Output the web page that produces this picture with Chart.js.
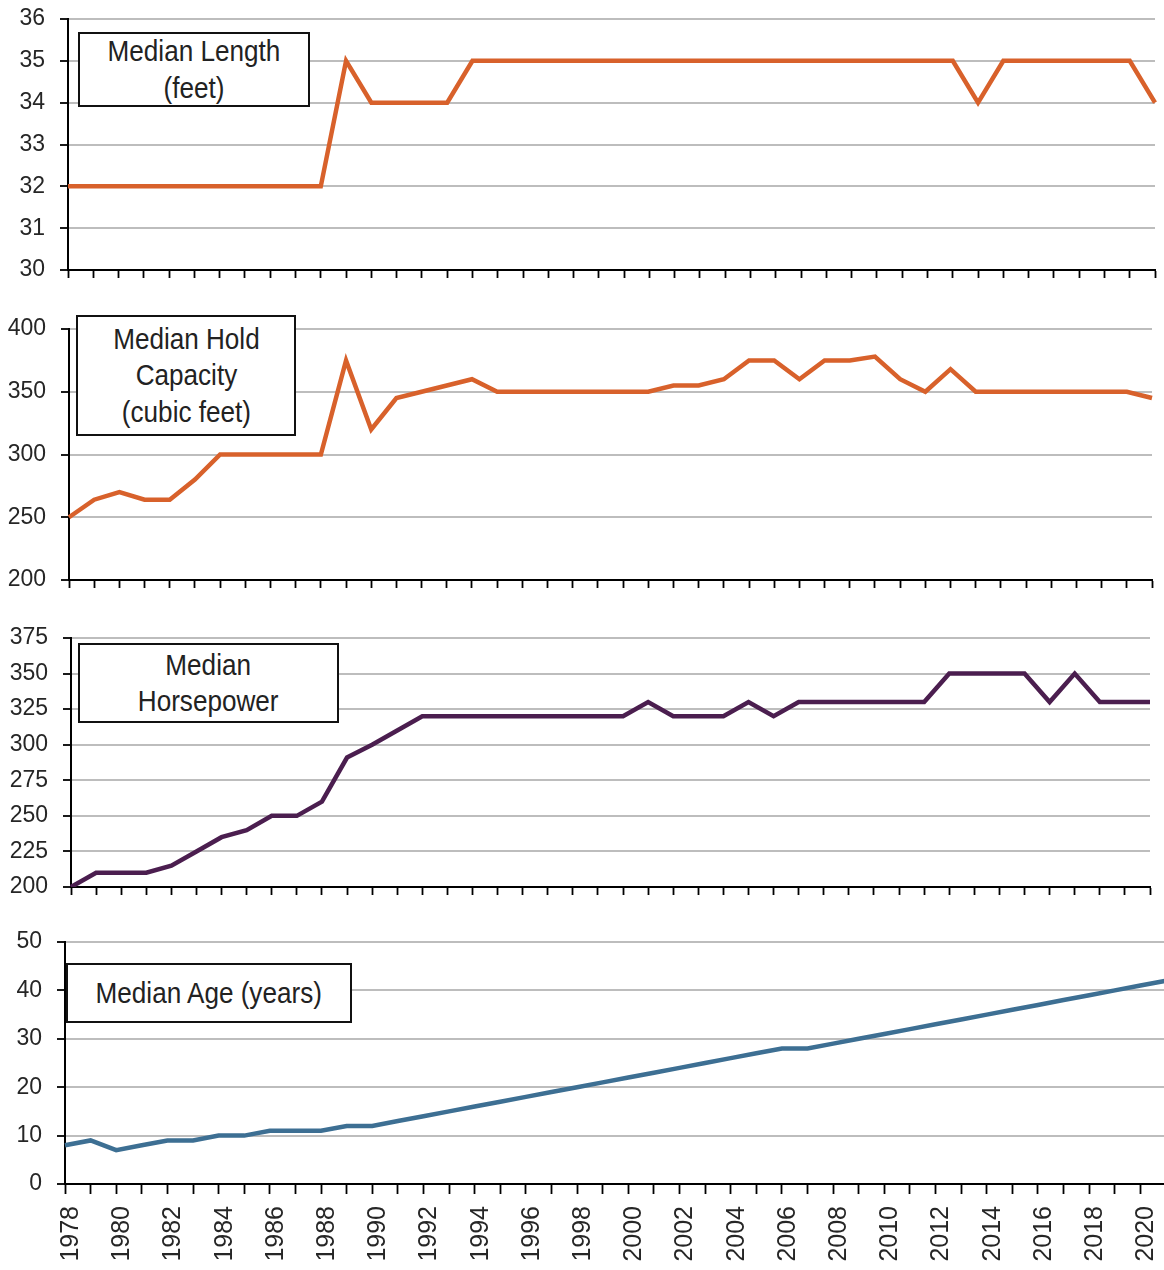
<!DOCTYPE html>
<html>
<head>
<meta charset="utf-8">
<title>Median vessel characteristics 1978-2021</title>
<script src="https://cdn.jsdelivr.net/npm/chart.js@4.4.0/dist/chart.umd.min.js"></script>
<style>
    html, body { margin: 0; padding: 0; background: #fff; overflow: hidden; }
    #page { position: relative; width: 1164px; height: 1270px; overflow: hidden; }
    #page canvas { position: absolute; left: 0; }
    .label-box {
        position: absolute;
        box-sizing: border-box;
        background: #fff;
        border: 2px solid #111;
        font-family: 'Liberation Sans', Arial, sans-serif;
        font-size: 29px;
        line-height: 36.5px;
        color: #222;
        text-align: center;
        display: flex;
        align-items: center;
        justify-content: center;
    }
    .label-box span { display: inline-block; transform: scaleX(0.9); white-space: nowrap; }
</style>
</head>
<body>
<div id="page">
    <canvas id="lengthChart" width="1164" height="300" style="top:0px"></canvas>
    <canvas id="holdChart" width="1164" height="310" style="top:300px"></canvas>
    <canvas id="hpChart" width="1164" height="307" style="top:610px"></canvas>
    <canvas id="ageChart" width="1190" height="353" style="top:917px"></canvas>

    <div class="label-box" style="left:78px;top:32px;width:232px;height:75px"><span>Median Length<br>(feet)</span></div>
    <div class="label-box" style="left:76px;top:315px;width:220px;height:121px"><span>Median Hold<br>Capacity<br>(cubic feet)</span></div>
    <div class="label-box" style="left:78px;top:643px;width:261px;height:80px"><span>Median<br>Horsepower</span></div>
    <div class="label-box" style="left:66px;top:963px;width:286px;height:60px"><span>Median Age (years)</span></div>
</div>

<script>
// --- Data ---

const years = ['1978', '1979', '1980', '1981', '1982', '1983', '1984', '1985', '1986', '1987',
    '1988', '1989', '1990', '1991', '1992', '1993', '1994', '1995', '1996', '1997',
    '1998', '1999', '2000', '2001', '2002', '2003', '2004', '2005', '2006', '2007',
    '2008', '2009', '2010', '2011', '2012', '2013', '2014', '2015', '2016', '2017',
    '2018', '2019', '2020', '2021'];

const medianLength = [32, 32, 32, 32, 32, 32, 32, 32, 32, 32,
    32, 35, 34, 34, 34, 34, 35, 35, 35, 35,
    35, 35, 35, 35, 35, 35, 35, 35, 35, 35,
    35, 35, 35, 35, 35, 35, 34, 35, 35, 35,
    35, 35, 35, 34];

const medianHold = [250, 264, 270, 264, 264, 280, 300, 300, 300, 300,
    300, 375, 320, 345, 350, 355, 360, 350, 350, 350,
    350, 350, 350, 350, 355, 355, 360, 375, 375, 360,
    375, 375, 378, 360, 350, 368, 350, 350, 350, 350,
    350, 350, 350, 345];

const medianHorsepower = [200, 210, 210, 210, 215, 225, 235, 240, 250, 250,
    260, 291, 300, 310, 320, 320, 320, 320, 320, 320,
    320, 320, 320, 330, 320, 320, 320, 330, 320, 330,
    330, 330, 330, 330, 330, 350, 350, 350, 350, 330,
    350, 330, 330, 330];

const medianAge = [8, 9, 7, 8, 9, 9, 10, 10, 11, 11,
    11, 12, 12, 13, 14, 15, 16, 17, 18, 19,
    20, 21, 22, 23, 24, 25, 26, 27, 28, 28,
    29, 30, 31, 32, 33, 34, 35, 36, 37, 38,
    39, 40, 41, 42];

// --- Chart helper ---

const FONT_FAMILY = "'Liberation Sans', Arial, sans-serif";
const NARROW_FAMILY = "'Liberation Sans Narrow', 'Arial Narrow', 'Liberation Sans', sans-serif";
const GRID_GRAY = '#bdbdbd';
const TEXT_COLOR = '#262626';

function makePanel(canvasId, values, color, yMin, yMax, step, frame) {
    const config = {
        type: 'line',
        data: {
            labels: years,
            datasets: [{
                data: values,
                borderColor: color,
                borderWidth: 4.5,
                borderJoinStyle: 'miter',
                pointRadius: 0,
                tension: 0,
                fill: false
            }]
        },
        options: {
            responsive: false,
            animation: false,
            devicePixelRatio: 1,
            layout: {
                padding: { top: frame.padTop, right: frame.padRight, left: 0, bottom: 0 }
            },
            plugins: {
                legend: { display: false },
                tooltip: { enabled: false }
            },
            scales: {
                x: {
                    type: 'category',
                    offset: false,
                    border: { display: true, color: '#000', width: 2 },
                    grid: {
                        drawOnChartArea: false,
                        drawTicks: true,
                        tickLength: frame.tickLength,
                        tickColor: '#000',
                        tickWidth: 1.8
                    },
                    ticks: {
                        display: frame.showYears,
                        autoSkip: false,
                        minRotation: 90,
                        maxRotation: 90,
                        padding: 12,
                        labelOffset: 6,
                        color: TEXT_COLOR,
                        font: { family: FONT_FAMILY, size: 25 },
                        callback: function(value, index) {
                            const year = years[index];
                            return parseInt(year) % 2 === 0 ? year : '';
                        }
                    },
                    afterFit: function(scale) {
                        // keep the plot area where the frame says, not where label overhang pushes it
                        scale.height = frame.xHeight;
                        scale.paddingLeft = 0;
                        scale.paddingRight = 0;
                    }
                },
                y: {
                    min: yMin,
                    max: yMax,
                    border: { display: true, color: '#000', width: 2 },
                    grid: {
                        color: function(ctx) {
                            return ctx.tick && ctx.tick.value === yMin ? 'rgba(0,0,0,0)' : GRID_GRAY;
                        },
                        lineWidth: 2,
                        tickLength: 8,
                        tickColor: '#000',
                        tickWidth: 1.8
                    },
                    ticks: {
                        stepSize: step,
                        padding: 15,
                        color: TEXT_COLOR,
                        font: { family: NARROW_FAMILY, size: 23 }
                    },
                    afterFit: function(scale) {
                        scale.width = frame.yWidth;
                        scale.paddingTop = 0;
                        scale.paddingBottom = 0;
                    }
                }
            }
        }
    };
    return new Chart(document.getElementById(canvasId), config);
}

// --- Panels ---

makePanel('lengthChart', medianLength, '#d8612b', 30, 36, 1,
    { padTop: 19, padRight: 9, yWidth: 68, xHeight: 30, tickLength: 8, showYears: false });

makePanel('holdChart', medianHold, '#d8612b', 200, 400, 50,
    { padTop: 29, padRight: 12, yWidth: 69, xHeight: 30, tickLength: 8, showYears: false });

makePanel('hpChart', medianHorsepower, '#4b1e4f', 200, 375, 25,
    { padTop: 28, padRight: 14, yWidth: 71, xHeight: 30, tickLength: 8, showYears: false });

makePanel('ageChart', medianAge, '#3d6f93', 0, 50, 10,
    { padTop: 25, padRight: 24, yWidth: 65, xHeight: 86, tickLength: 10, showYears: true });
</script>
</body>
</html>
